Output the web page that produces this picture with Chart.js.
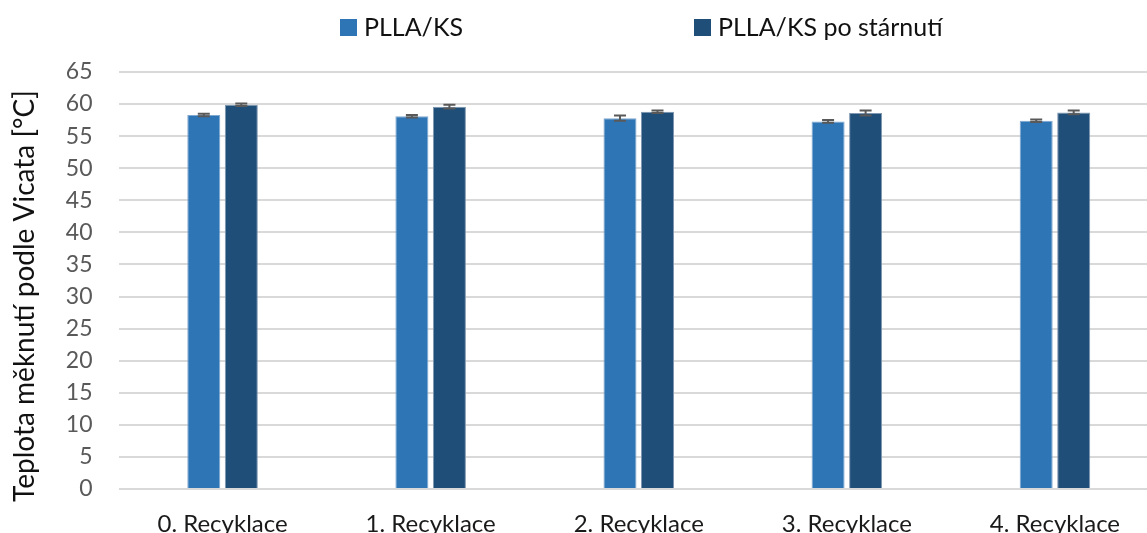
<!DOCTYPE html>
<html><head><meta charset="utf-8">
<script src="https://cdn.jsdelivr.net/npm/chart.js@4/dist/chart.umd.min.js"></script>
<style>html,body{margin:0;padding:0;background:#fff;overflow:hidden}#wrap{width:1147px;height:533px;overflow:hidden}</style>
</head><body><div id="wrap"><canvas id="c" width="1159" height="533"></canvas></div>
<script>
const categories = ["0. Recyklace", "1. Recyklace", "2. Recyklace", "3. Recyklace", "4. Recyklace"];
const seriesNames = ["PLLA/KS", "PLLA/KS po stárnutí"];
const plla = [58.3, 58.1, 57.8, 57.3, 57.4];
const pllaErr = [0.2, 0.2, 0.4, 0.2, 0.2];
const aged = [59.9, 59.6, 58.8, 58.6, 58.7];
const agedErr = [0.2, 0.3, 0.2, 0.4, 0.3];
const yTicks = [0, 5, 10, 15, 20, 25, 30, 35, 40, 45, 50, 55, 60, 65];
const yTitle = "Teplota měknutí podle Vicata [°C]";
const colors = ["#2E75B6", "#1F4E79"];
const FONT = "Lato";

const errorBars = {
  id: 'errorBars',
  afterDatasetsDraw(chart) {
    const ctx = chart.ctx, y = chart.scales.y;
    const errs = [pllaErr, agedErr];
    chart.data.datasets.forEach((ds, di) => {
      const meta = chart.getDatasetMeta(di);
      meta.data.forEach((bar, i) => {
        const v = ds.data[i], e = errs[di][i];
        const yt = y.getPixelForValue(v + e), yb = y.getPixelForValue(v - e);
        ctx.save();
        ctx.strokeStyle = '#595959'; ctx.lineWidth = 2;
        ctx.beginPath();
        ctx.moveTo(bar.x, yt); ctx.lineTo(bar.x, yb);
        ctx.moveTo(bar.x - 6, yt); ctx.lineTo(bar.x + 6, yt);
        ctx.moveTo(bar.x - 6, yb); ctx.lineTo(bar.x + 6, yb);
        ctx.stroke();
        ctx.restore();
      });
    });
  }
};

const customText = {
  id: 'customText',
  afterDraw(chart) {
    const ctx = chart.ctx;
    ctx.save();
    ctx.font = '25px ' + FONT;
    ctx.textBaseline = 'middle';
    const boxX = [340, 694];
    seriesNames.forEach((n, i) => {
      ctx.fillStyle = colors[i];
      ctx.fillRect(boxX[i], 19, 17, 17);
      ctx.fillStyle = '#111111';
      ctx.fillText(n, boxX[i] + 24, 28);
    });
    ctx.restore();
    ctx.save();
    ctx.translate(25, 296);
    ctx.rotate(-Math.PI / 2);
    ctx.font = '28px ' + FONT;
    ctx.textAlign = 'center';
    ctx.textBaseline = 'middle';
    ctx.fillStyle = '#111111';
    ctx.fillText(yTitle, 0, 0);
    ctx.restore();
  }
};

new Chart(document.getElementById('c'), {
  type: 'bar',
  data: {
    labels: categories,
    datasets: [
      { label: seriesNames[0], data: plla, backgroundColor: colors[0], borderColor: '#7fa8d0', borderWidth: 1, barPercentage: 0.88, categoryPercentage: 0.3606 },
      { label: seriesNames[1], data: aged, backgroundColor: colors[1], borderColor: '#7f97b0', borderWidth: 1, barPercentage: 0.88, categoryPercentage: 0.3606 }
    ]
  },
  options: {
    responsive: false,
    animation: false,
    layout: { padding: { top: 72, right: 0, left: 0, bottom: 0 } },
    plugins: { legend: { display: false }, tooltip: { enabled: false } },
    scales: {
      x: {
        grid: { display: false, drawTicks: false },
        border: { display: false },
        ticks: { color: '#1a1a1a', font: { family: FONT, size: 24 }, padding: 21, maxRotation: 0 },
        afterFit(s) { s.height = 44; }
      },
      y: {
        min: 0, max: 65,
        afterBuildTicks(s) { s.ticks = yTicks.map(v => ({ value: v })); },
        grid: { color: '#d9d9d9', lineWidth: 2, drawTicks: false },
        border: { display: false },
        ticks: { color: '#595959', font: { family: FONT, size: 23 }, padding: 26 },
        afterFit(s) { s.width = 118.5; }
      }
    }
  },
  plugins: [errorBars, customText]
});
</script>
</body></html>
